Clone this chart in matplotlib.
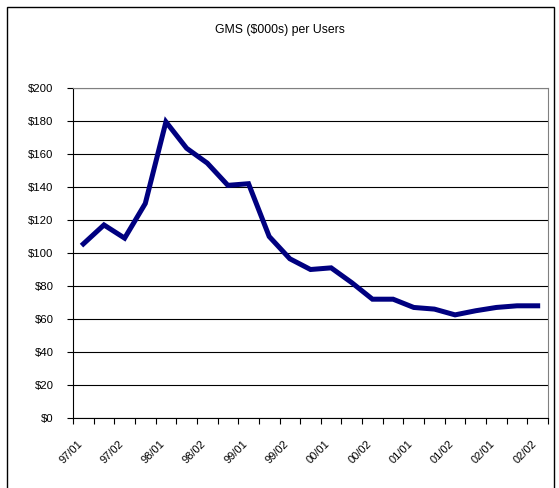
import matplotlib
matplotlib.use('Agg')
import matplotlib.pyplot as plt
from matplotlib.patches import Rectangle
from matplotlib.ticker import FuncFormatter, FixedLocator

plt.rcParams['font.family'] = ['Liberation Sans', 'DejaVu Sans']

# GMS per user, one value per quarter
gms = [105.5, 117, 109, 130, 179.5, 163.5, 154.5, 141, 142, 110, 96.5, 90,
       91, 82, 72, 72, 67, 66, 62.5, 65, 67, 68, 68]
labels = ['97/01', '97/02', '98/01', '98/02', '99/01', '99/02',
          '00/01', '00/02', '01/01', '01/02', '02/01', '02/02']

fig = plt.figure(figsize=(5.59, 4.88), dpi=100)
fig.patches.append(Rectangle((7 / 559, -0.05), 547 / 559, 1 - 7 / 488 + 0.05,
                             transform=fig.transFigure, fill=False,
                             edgecolor='black', linewidth=1.0))

ax = fig.add_axes([73 / 559, 1 - 418 / 488, 475 / 559, 330 / 488])
n = len(gms)
x = [i + 0.5 for i in range(n)]
ax.plot(x, gms, color='#000080', linewidth=3.6, solid_joinstyle='miter')

ax.set_xlim(0, n)
ax.set_ylim(0, 200)
ax.set_yticks(range(0, 201, 20))
ax.yaxis.set_major_formatter(FuncFormatter(lambda v, p: '$%d' % v))
ax.yaxis.grid(True, color='black', linewidth=0.8)
ax.set_axisbelow(True)

ax.xaxis.set_major_locator(FixedLocator(range(n + 1)))
ax.set_xticklabels([])
ax.xaxis.set_minor_locator(FixedLocator([i + 0.2 for i in range(0, n, 2)]))
ax.set_xticklabels(labels, minor=True, rotation=45, ha='right', va='top',
                   rotation_mode='anchor', fontsize=8)
ax.tick_params(axis='x', which='minor', length=0, pad=15)
ax.tick_params(axis='x', which='major', length=4, direction='out', color='black')
ax.tick_params(axis='y', length=4, direction='out', labelsize=8.2, pad=10)

for s in ['top', 'right']:
    ax.spines[s].set_color('#808080')
for s in ['left', 'bottom']:
    ax.spines[s].set_color('black')

fig.text(0.5, 1 - 30 / 488, 'GMS ($000s) per Users', ha='center', va='center',
         fontsize=8.8)

fig.savefig('out.png', dpi=100)
